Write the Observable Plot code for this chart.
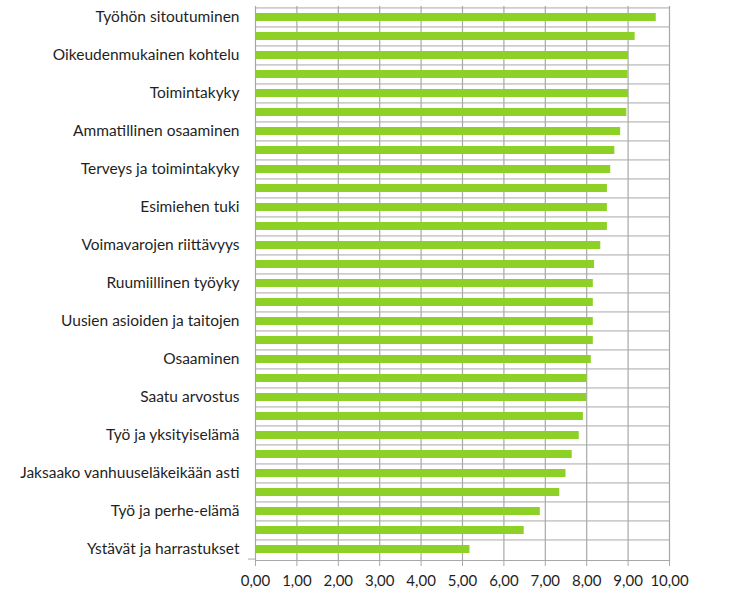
<!DOCTYPE html>
<html>
<head>
<meta charset="utf-8">
<script src="https://cdn.jsdelivr.net/npm/d3@7"></script>
<script src="https://cdn.jsdelivr.net/npm/@observablehq/plot@0.6"></script>
<style>
  html, body { margin: 0; padding: 0; background: #fff; }
  #chart svg { display: block; }
</style>
</head>
<body>
<div id="chart"></div>
<script>
// Bar identifiers (top to bottom)
const ids = d3.range(1, 30).map(String);
// Category labels (only every other bar is labelled in the original)
const labels = [
  "Työhön sitoutuminen", "",
  "Oikeudenmukainen kohtelu", "",
  "Toimintakyky", "",
  "Ammatillinen osaaminen", "",
  "Terveys ja toimintakyky", "",
  "Esimiehen tuki", "",
  "Voimavarojen riittävyys", "",
  "Ruumiillinen työyky", "",
  "Uusien asioiden ja taitojen", "",
  "Osaaminen", "",
  "Saatu arvostus", "",
  "Työ ja yksityiselämä", "",
  "Jaksaako vanhuuseläkeikään asti", "",
  "Työ ja perhe-elämä", "",
  "Ystävät ja harrastukset"
];
// Values
const values = [
  9.68, 9.17, 9.01, 9.00, 9.01, 8.97, 8.82, 8.68, 8.58, 8.50,
  8.50, 8.50, 8.34, 8.19, 8.16, 8.16, 8.16, 8.16, 8.11, 8.01,
  8.00, 7.92, 7.82, 7.65, 7.50, 7.35, 6.88, 6.49, 5.18
];
const xTicks = [0, 1, 2, 3, 4, 5, 6, 7, 8, 9, 10];

const data = ids.map((id, i) => ({id, label: labels[i], value: values[i]}));
const labelOf = new Map(data.map(d => [d.id, d.label]));

const W = 742, H = 591;
const mTop = 6, mBottom = 31, mLeft = 255, mRight = 73;
const halfStep = (H - mTop - mBottom) / ids.length / 2;

const chart = Plot.plot({
  width: W,
  height: H,
  marginTop: mTop,
  marginBottom: mBottom,
  marginLeft: mLeft,
  marginRight: mRight,
  style: {fontFamily: "Lato, sans-serif", fontSize: "15px", color: "#1f1f1f", background: "#fff"},
  x: {domain: [0, 10]},
  y: {domain: ids, padding: 0.58, paddingOuter: 0.3},
  marks: [
    Plot.ruleX(xTicks.filter(d => d > 0), {stroke: "#a8a8a8", strokeWidth: 1.2}),
    Plot.barX(data, {y: "id", x: "value", fill: "#8dd126"}),
    // tick marks on the category axis at band boundaries
    Plot.tickY(ids, {y: d => d, dy: -halfStep, x1: -0.17, x2: 0, stroke: "#a8a8a8"}),
    Plot.ruleY([ids[ids.length - 1]], {dy: halfStep, x1: -0.17, x2: 0, stroke: "#a8a8a8"}),
    Plot.ruleX([0], {stroke: "#a8a8a8", strokeWidth: 1.2}),
    Plot.frame({anchor: "bottom", stroke: "#a8a8a8", strokeWidth: 1.2}),
    Plot.axisX({
      ticks: xTicks,
      tickSize: 6,
      tickPadding: 9,
      stroke: "#a8a8a8",
      fill: "#1f1f1f",
      tickFormat: d => d.toFixed(2).replace(".", ","),
      fontSize: 15,
      label: null
    }),
    Plot.axisY({
      tickSize: 0,
      tickPadding: 16,
      tickFormat: id => labelOf.get(id),
      fill: "#1f1f1f",
      fontSize: 15.5,
      label: null
    })
  ]
});
document.getElementById("chart").appendChild(chart);
</script>
</body>
</html>
